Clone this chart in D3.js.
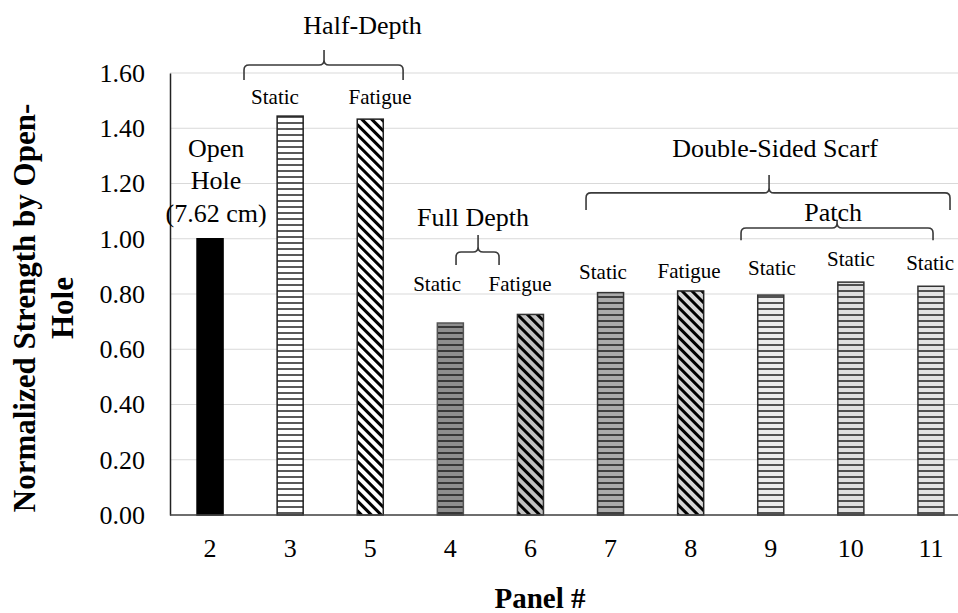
<!DOCTYPE html>
<html><head><meta charset="utf-8">
<script src="https://cdn.jsdelivr.net/npm/d3@7"></script>
<style>
body{margin:0;background:#fff}
svg{display:block}
text{font-family:"Liberation Serif","Times New Roman",serif;fill:#000}
</style>
</head><body>
<svg id="chart" width="958" height="613"></svg>
<script>
// ---------- data ----------
const categories = ["2","3","5","4","6","7","8","9","10","11"];
const values = [1.00, 1.444, 1.433, 0.695, 0.726, 0.805, 0.811, 0.796, 0.843, 0.828];
const yTickValues = [0, 0.2, 0.4, 0.6, 0.8, 1.0, 1.2, 1.4, 1.6];
const xTitle = "Panel #";
const yTitleLines = ["Normalized  Strength by Open-", "Hole"];

// annotation texts: position in (category index, value) data space
const annoTexts = ["Half-Depth","Static","Fatigue","Open","Hole","(7.62 cm)","Full Depth","Static","Fatigue",
                   "Double-Sided Scarf","Patch","Static","Fatigue","Static","Static","Static"];
const annoIdx   = [1.904, 0.811, 2.122, 0.075, 0.075, 0.075, 3.283, 2.834, 3.870, 7.054, 7.778, 4.906, 5.980, 7.016, 8.002, 8.989];
const annoVal   = [1.774, 1.513, 1.513, 1.329, 1.213, 1.093, 1.079, 0.836, 0.836, 1.329, 1.097, 0.880, 0.883, 0.894, 0.927, 0.912];
const annoKind  = ["big","small","small","big","big","big","big","small","small","big","big","small","small","small","small","small"];

// braces: [from index, to index, tip index, bar value, end value, tip value]
const braceFrom = [0.424, 3.071, 4.694, 6.629];
const braceTo   = [2.410, 3.608, 9.238, 9.026];
const braceTip  = [1.423, 3.346, 6.979, 7.828];
const braceBar  = [1.629, 0.952, 1.166, 1.039];
const braceEnd  = [1.575, 0.905, 1.104, 0.995];
const braceTop  = [1.683, 1.014, 1.231, 1.068];

// ---------- styles ----------
const barKind = ["solid","h","d","h","d","h","d","h","h","h"];
const barBg   = ["#000000","#ffffff","#ffffff","#8e8e8e","#c0c0c0","#ababab","#d6d6d6","#ececec","#e0e0e0","#e4e4e4"];
const barStroke=["#000000","#222222","#222222","#555555","#333333","#333333","#222222","#333333","#333333","#333333"];

const svg = d3.select("#chart");
const W = 958, H = 613;
const x = d3.scaleBand().domain(categories).range([170, 971]).paddingInner(0.675).paddingOuter(0.3375);
const y = d3.scaleLinear().domain([0, 1.6]).range([515, 73]);
const step = x.step();
const xi = i => x(categories[0]) + x.bandwidth()/2 + i*step;

// patterns
const defs = svg.append("defs");
categories.forEach((c, i) => {
  if (barKind[i] === "solid") return;
  const p = defs.append("pattern").attr("id", "pat" + i).attr("patternUnits", "userSpaceOnUse");
  if (barKind[i] === "h") {
    p.attr("width", 10).attr("height", 6);
    p.append("rect").attr("width", 10).attr("height", 6).attr("fill", barBg[i]);
    p.append("line").attr("x1", 0).attr("x2", 10).attr("y1", 3).attr("y2", 3)
      .attr("stroke", "#111").attr("stroke-width", 1.4);
  } else {
    p.attr("width", 7).attr("height", 10).attr("patternTransform", "rotate(-45)");
    p.append("rect").attr("width", 7).attr("height", 10).attr("fill", barBg[i]);
    p.append("line").attr("x1", 3.5).attr("x2", 3.5).attr("y1", 0).attr("y2", 10)
      .attr("stroke", "#000").attr("stroke-width", 3);
  }
});

// gridlines
svg.append("g").selectAll("line").data(yTickValues).join("line")
  .attr("x1", 170).attr("x2", W)
  .attr("y1", d => y(d)).attr("y2", d => y(d))
  .attr("stroke", "#d9d9d9").attr("stroke-width", 1);

// y axis
const yAxis = d3.axisLeft(y).tickValues(yTickValues).tickFormat(d3.format(".2f")).tickSize(0).tickPadding(25);
const gy = svg.append("g").attr("transform", "translate(170,0)").call(yAxis);
gy.select(".domain").attr("stroke", "#222").attr("stroke-width", 1.5);
gy.selectAll("text").attr("font-size", 26).attr("font-family", "Liberation Serif").attr("fill", "#000");

// bars
svg.append("g").selectAll("rect").data(values).join("rect")
  .attr("x", (d, i) => x(categories[i]))
  .attr("width", x.bandwidth())
  .attr("y", d => y(d))
  .attr("height", d => y(0) - y(d))
  .attr("fill", (d, i) => barKind[i] === "solid" ? barBg[i] : `url(#pat${i})`)
  .attr("stroke", (d, i) => barStroke[i])
  .attr("stroke-width", 1.5);

// x axis
const xAxis = d3.axisBottom(x).tickSize(0).tickPadding(24);
const gx = svg.append("g").attr("transform", "translate(0,515)").call(xAxis);
gx.select(".domain").attr("d", `M170,0H${W}`).attr("stroke", "#444").attr("stroke-width", 1.5);
gx.selectAll("text").attr("font-size", 26).attr("font-family", "Liberation Serif").attr("fill", "#000");

// axis titles
svg.append("text").attr("x", 540).attr("y", 608).attr("text-anchor", "middle")
  .attr("font-size", 29).attr("font-weight", "bold").text(xTitle);
const yt = svg.append("text").attr("transform", "translate(24,308) rotate(-90)")
  .attr("text-anchor", "middle").attr("font-size", 31).attr("font-weight", "bold");
yTitleLines.forEach((t, k) => {
  yt.append("tspan").attr("x", 0).attr("y", k * 38).attr("dy", "0.35em").text(t);
});

// braces
const r = 5;
braceFrom.forEach((f, k) => {
  const x1 = xi(f), x2 = xi(braceTo[k]), tx = xi(braceTip[k]);
  const yh = y(braceBar[k]), ye = y(braceEnd[k]), yt2 = y(braceTop[k]);
  const path = `M${x1},${ye} L${x1},${yh + r} Q${x1},${yh} ${x1 + r},${yh} L${tx - r},${yh} Q${tx},${yh} ${tx},${yh - r} L${tx},${yt2}` +
               ` M${x2},${ye} L${x2},${yh + r} Q${x2},${yh} ${x2 - r},${yh} L${tx + r},${yh} Q${tx},${yh} ${tx},${yh - r}`;
  svg.append("path").attr("d", path).attr("fill", "none").attr("stroke", "#3a3a3a").attr("stroke-width", 1.6);
});

// annotation texts
annoTexts.forEach((t, k) => {
  svg.append("text")
    .attr("x", xi(annoIdx[k])).attr("y", y(annoVal[k]))
    .attr("dy", "0.35em").attr("text-anchor", "middle")
    .attr("font-size", annoKind[k] === "big" ? 26 : 21)
    .text(t);
});
</script>
</body></html>
